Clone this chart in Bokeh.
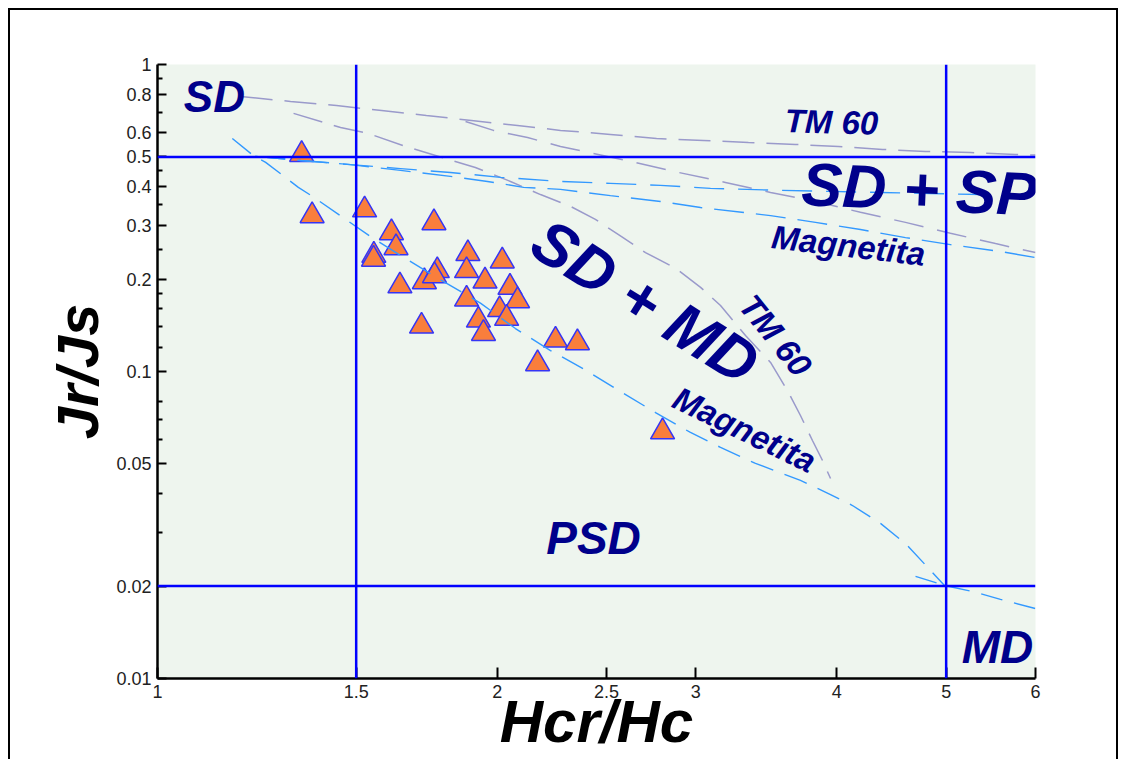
import math
from bokeh.plotting import figure
from bokeh.models import Label, Span, FixedTicker, CustomJSTickFormatter
from bokeh.embed import file_html
from bokeh.resources import INLINE

# ---------------- data ----------------
hcr_hc = [1.342, 1.371, 1.526, 1.758, 1.612, 1.627, 1.555, 1.554, 1.640, 1.724,
          1.770, 1.760, 1.884, 1.879, 2.021, 1.951, 1.879, 2.053, 2.085, 2.010,
          2.039, 1.925, 1.945, 1.714, 2.253, 2.356, 2.172, 2.803]
jr_js = [0.509, 0.3215, 0.336, 0.305, 0.283, 0.253, 0.239, 0.232, 0.190, 0.196,
         0.213, 0.205, 0.242, 0.213, 0.229, 0.197, 0.172, 0.188, 0.170, 0.159,
         0.149, 0.147, 0.133, 0.1405, 0.1265, 0.124, 0.106, 0.0636]

# TM60 reference curves
tm60_sdsp1_x = [1.185, 1.312, 1.441, 1.580, 1.731, 1.898, 2.085, 2.276, 2.520, 2.769,
                3.047, 3.340, 3.677, 4.014, 4.391, 4.794, 5.255, 5.760, 6.0]
tm60_sdsp1_y = [0.787, 0.758, 0.735, 0.708, 0.682, 0.657, 0.633, 0.610, 0.592, 0.574,
                0.566, 0.557, 0.549, 0.541, 0.529, 0.521, 0.517, 0.509, 0.507]
tm60_sdsp2_x = [1.875, 1.985, 2.128, 2.276, 2.410, 2.647, 2.896, 3.187, 3.494, 3.830,
                4.198, 4.602, 5.044, 5.530, 6.0]
tm60_sdsp2_y = [0.652, 0.610, 0.578, 0.541, 0.517, 0.480, 0.445, 0.413, 0.383, 0.358,
                0.330, 0.306, 0.282, 0.261, 0.244]
tm60_sdmd_x = [1.320, 1.453, 1.538, 1.659, 1.800, 1.913, 2.055, 2.185, 2.323, 2.444,
               2.578, 2.707, 2.878, 3.029, 3.155, 3.320, 3.494, 3.625, 3.714, 3.806,
               3.885, 3.949]
tm60_sdmd_y = [0.693, 0.623, 0.596, 0.541, 0.494, 0.462, 0.416, 0.377, 0.345, 0.313,
               0.275, 0.244, 0.217, 0.188, 0.164, 0.131, 0.107, 0.0854, 0.0719, 0.0596,
               0.0513, 0.0448]

# Magnetite reference curves
mag_sdsp1_x = [1.221, 1.339, 1.483, 1.642, 1.818, 2.014, 2.276, 2.520, 2.791, 3.091,
               3.566, 3.949, 4.373, 4.843, 5.363, 6.0]
mag_sdsp1_y = [0.502, 0.487, 0.472, 0.458, 0.445, 0.429, 0.416, 0.410, 0.404, 0.395,
               0.389, 0.386, 0.383, 0.380, 0.377, 0.374]
mag_sdsp2_x = [1.221, 1.339, 1.483, 1.642, 1.818, 1.961, 2.111, 2.276, 2.520, 2.791,
               3.029, 3.494, 3.830, 4.198, 4.602, 5.044, 5.586, 6.0]
mag_sdsp2_y = [0.502, 0.487, 0.472, 0.452, 0.432, 0.416, 0.398, 0.392, 0.374, 0.358,
               0.342, 0.322, 0.306, 0.290, 0.273, 0.259, 0.246, 0.235]
mag_sdmd_x = [1.165, 1.216, 1.247, 1.333, 1.372, 1.468, 1.545, 1.642, 1.782, 1.933,
              2.076, 2.230, 2.385, 2.546, 2.763, 2.967, 3.155, 3.388, 3.714, 3.949,
              4.130, 4.373, 4.602, 4.843, 4.983]
mag_sdmd_y = [0.574, 0.505, 0.480, 0.398, 0.372, 0.313, 0.275, 0.239, 0.199, 0.167,
              0.138, 0.117, 0.102, 0.088, 0.0735, 0.0633, 0.0566, 0.0502, 0.0442, 0.0397,
              0.0366, 0.0320, 0.0275, 0.0225, 0.0201]
mag_md_x = [4.697, 4.983, 5.309, 5.586, 6.0]
mag_md_y = [0.0215, 0.0201, 0.0191, 0.0181, 0.0169]

# domain boundaries
hcr_limits = [1.5, 5.0]
jr_limits = [0.5, 0.02]

# ticks
x_ticks = [1, 1.5, 2, 2.5, 3, 4, 5, 6]
x_tick_labels = ["1", "1.5", "2", "2.5", "3", "4", "5", "6"]
y_ticks = [0.01, 0.02, 0.05, 0.1, 0.2, 0.3, 0.4, 0.5, 0.6, 0.8, 1]
y_tick_labels = ["0.01", "0.02", "0.05", "0.1", "0.2", "0.3", "0.4", "0.5", "0.6", "0.8", "1"]
y_minor_ticks = [0.03, 0.04, 0.06, 0.07, 0.08, 0.12, 0.14, 0.16, 0.18, 0.25, 0.35,
                 0.45, 0.7, 0.9]

# ---------------- figure ----------------
FONT = "Liberation Sans"
NAVY = "#00008B"

p = figure(width=1110, height=751, x_axis_type="log", y_axis_type="log",
           x_range=(1, 6), y_range=(0.01, 1),
           output_backend="svg", toolbar_location=None,
           min_border_left=147, min_border_right=85, min_border_top=54, min_border_bottom=83,
           background_fill_color="#EEF5EE", border_fill_color="white",
           outline_line_color=None, margin=(8, 0, 0, 8),
           styles={"border-left": "2px solid black", "border-top": "2px solid black",
                   "border-right": "2px solid black"})
p.grid.visible = False

fmt_code = """
for (let i = 0; i < t.length; i++) {
  if (Math.abs(tick / t[i] - 1) < 1e-6) return l[i];
}
return "";
"""
p.xaxis.ticker = FixedTicker(ticks=x_ticks, minor_ticks=[])
p.yaxis.ticker = FixedTicker(ticks=y_ticks, minor_ticks=y_minor_ticks)
p.xaxis.formatter = CustomJSTickFormatter(args=dict(t=x_ticks, l=x_tick_labels), code=fmt_code)
p.yaxis.formatter = CustomJSTickFormatter(args=dict(t=y_ticks, l=y_tick_labels), code=fmt_code)

for ax in (p.xaxis[0], p.yaxis[0]):
    ax.axis_line_color = "black"
    ax.axis_line_width = 2.5
    ax.major_tick_line_color = "black"
    ax.major_tick_line_width = 2
    ax.major_tick_out = 0
    ax.minor_tick_line_color = "black"
    ax.minor_tick_line_width = 2
    ax.minor_tick_out = 0
    ax.minor_tick_in = 5
    ax.major_label_text_font = FONT
    ax.major_label_text_font_size = "18px"
    ax.major_label_text_color = "#222222"
    ax.axis_label_text_font = FONT
    ax.axis_label_text_font_style = "bold italic"
    ax.axis_label_text_color = "black"
p.xaxis.major_tick_in = 11
p.yaxis.major_tick_in = 9
p.xaxis.major_label_standoff = 6
p.yaxis.major_label_standoff = 6

p.yaxis.axis_label = "Jr/Js"
p.yaxis.axis_label_text_font_size = "58px"
p.yaxis.axis_label_standoff = 3
p.xaxis.axis_label = "Hcr/Hc"
p.xaxis.axis_label_text_font_size = "60px"
p.xaxis.axis_label_standoff = -13

# samples
p.scatter(hcr_hc, jr_js, marker="triangle", size=24,
          fill_color="#F97E3C", line_color="#3535F5", line_width=1.5)

# reference curves
gray = "#9A9ACB"
lblue = "#3399FF"
p.line(tm60_sdsp1_x, tm60_sdsp1_y, line_color=gray, line_width=1.5, line_dash="32 12")
p.line(tm60_sdsp2_x, tm60_sdsp2_y, line_color=gray, line_width=1.5, line_dash="30 14")
p.line(tm60_sdmd_x, tm60_sdmd_y, line_color=gray, line_width=1.5, line_dash="30 12")
p.line(mag_sdsp1_x, mag_sdsp1_y, line_color=lblue, line_width=1.4, line_dash="30 14")
p.line(mag_sdsp2_x, mag_sdsp2_y, line_color=lblue, line_width=1.4, line_dash="30 12")
p.line(mag_sdmd_x, mag_sdmd_y, line_color=lblue, line_width=1.4, line_dash="24 12")
p.line(mag_md_x, mag_md_y, line_color=lblue, line_width=1.4, line_dash="22 12")

# domain boundaries
for xv in hcr_limits:
    p.add_layout(Span(location=xv, dimension="height", line_color="#0000FF", line_width=2.5))
for yv in jr_limits:
    p.add_layout(Span(location=yv, dimension="width", line_color="#0000FF", line_width=2.5))

# region / curve labels
def lab(x, y, text, size, angle=0.0, color=NAVY):
    p.add_layout(Label(x=x, y=y, text=text, angle=angle, text_align="center",
                       text_baseline="middle", text_font=FONT, text_font_style="bold italic",
                       text_font_size=f"{size}px", text_color=color))

lab(1.123, 0.787, "SD", 44)
lab(4.735, 0.392, "SD + SP", 61, -0.045)
lab(2.707, 0.169, "SD + MD", 62, -0.56)
lab(3.957, 0.650, "TM 60", 33, -0.03)
lab(4.096, 0.2573, "Magnetita", 33, -0.115)
lab(3.53, 0.131, "TM 60", 33, -0.89)
lab(3.313, 0.0647, "Magnetita", 33, -0.45)
lab(2.4345, 0.0287, "PSD", 46)
lab(5.552, 0.01266, "MD", 46)

open("out.html", "w").write(file_html(p, INLINE))
